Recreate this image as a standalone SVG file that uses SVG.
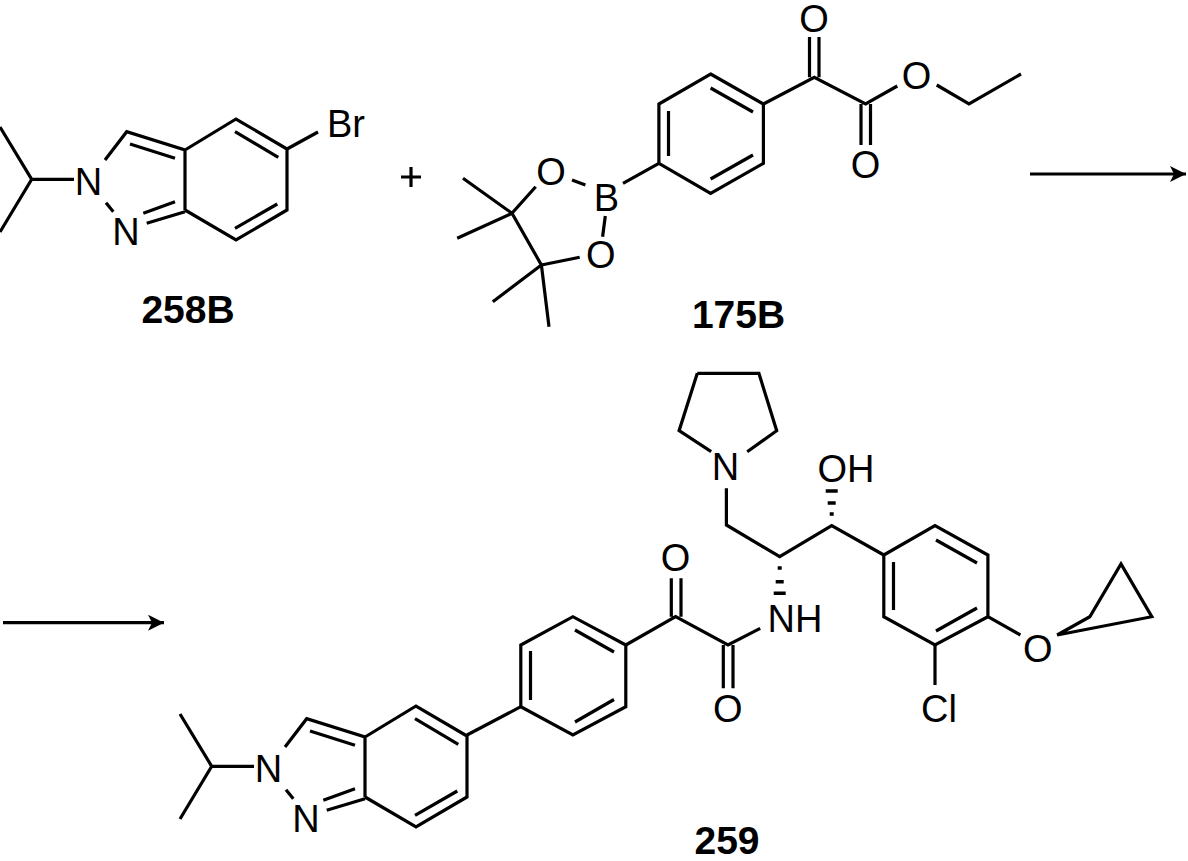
<svg xmlns="http://www.w3.org/2000/svg" width="1188" height="861" viewBox="0 0 1188 861">
<defs>
<style>
.b{stroke:#000;stroke-width:3.2;fill:none;stroke-linecap:butt;stroke-linejoin:miter}
.t{font-family:"Liberation Sans",Arial,sans-serif;font-size:38px;fill:#000;text-anchor:middle}
.lb{font-family:"Liberation Sans",Arial,sans-serif;font-size:39px;font-weight:bold;fill:#000;text-anchor:middle}
</style>
<marker id="ah" viewBox="0 0 10 10" refX="10" refY="5" markerWidth="8" markerHeight="5" markerUnits="strokeWidth" orient="auto"><path d="M0,0 L10,5 L0,10 L2.5,5 z" fill="#000"/></marker>
<g id="indazole">
<path class="b" d="M0,127 L31.7,179.3 L0,232 M31.7,179.3 L74,179.3 M105,160 L126.7,131.7 L185,150 L185,210 M106,202.7 L113.3,211.7 M146.7,223.3 L185,211.7 M143.3,213.3 L175,201.7 M130,144 L175,158.3 M185,150 L236,119 L287,149 L287,210 L236,240 L185,210 M235,131.7 L278.3,157.3 M235,228.3 L277.3,204"/>
<text class="t" x="88.5" y="195">N</text>
<text class="t" x="126" y="245">N</text>
</g>
</defs>
<g id="connectors">
<line class="b" x1="1030" y1="174" x2="1186" y2="174" marker-end="url(#ah)"/>
<line class="b" x1="3" y1="622.7" x2="164" y2="622.7" marker-end="url(#ah)"/>
</g>
<g id="plus"><path class="b" d="M401,177 L421,177 M411,167 L411,187"/></g>
<g id="c258B">
<use href="#indazole"/>
<path class="b" d="M287,149 L318,132"/>
<text class="t" x="327" y="136.7" style="text-anchor:start">Br</text>
<text class="lb" x="188" y="323">258B</text>
</g>
<g id="c175B">
<path class="b" d="M710.6,74 L763.4,104 L763.4,163.3 L710.6,193.3 L658.9,163.3 L658.9,104 Z M710.6,88 L753,112 M668.5,111 L668.5,156 M710.6,179 L753,155"/>
<path class="b" d="M623,183.3 L658.9,163.3 M572,180 L585.4,185 M605.3,216 L602.6,236.7 M535.7,186.7 L512,213.3 L541.4,265 L579.7,257.3 M512,213.3 L463,178.3 M512,213.3 L457.2,238.3 M541.4,265 L492.8,301.7 M541.4,265 L549,326.7"/>
<path class="b" d="M763.4,104 L814.3,77.3 L865.6,104 L897.3,86 M936.7,85 L969,104 L1021,74 M809.5,77.3 L809.5,37 M819,77.3 L819,37 M861,104 L861,145 M870.5,104 L870.5,145"/>
<text class="t" x="551" y="185">O</text>
<text class="t" x="606.5" y="211">B</text>
<text class="t" x="600.7" y="268">O</text>
<text class="t" x="814" y="32">O</text>
<text class="t" x="865.6" y="178">O</text>
<text class="t" x="916.5" y="89">O</text>
<text class="lb" x="738.5" y="328">175B</text>
</g>
<g id="c259">
<use href="#indazole" transform="translate(180,587)"/>
<path class="b" d="M467,735 L520.8,706.7"/>
<path class="b" d="M625.8,645 L572.9,616.7 L520.8,645 L520.8,706.7 L572.9,735 L625.8,706.7 Z M575,630 L614,652 M530.5,651 L530.5,700 M575,722 L614,699.5"/>
<path class="b" d="M625.8,645 L675.6,616.7 L728,645 L760.2,628.3 M671.3,616.7 L671.3,578.3 M681,616.7 L681,578.3 M723.3,645 L723.3,688.3 M733,645 L733,688.3"/>
<path class="b" d="M697.3,373.3 L758.9,373.3 L776.7,430.7 L747.2,451.7 M697.3,373.3 L679.1,430.7 L711.2,451.7 M726.4,488.3 L726.4,525 L779.7,556.7 L831.7,525.7 L883.8,555"/>
<path class="b" d="M883.8,555 L935,525.7 L987.9,555 L987.9,616.7 L935,645 L883.8,616.7 Z M936,540 L977,563 M893.5,562 L893.5,610 M936,631 L977,608"/>
<path class="b" d="M935,645 L935,685 M987.9,616.7 L1020.4,635 M1057.2,635 L1089.8,616.7 L1121,564 L1151.8,616.7 Z"/>
<path class="b" d="M825.7,491 L837.7,491 M827.7,503 L835.7,503 M829.7,514 L833.7,514 M777.7,568 L781.7,568 M775.7,581.7 L783.7,581.7 M773.7,593.3 L785.7,593.3" style="stroke-width:3.5"/>
<text class="t" x="725.5" y="480">N</text>
<text class="t" x="846" y="481.7">OH</text>
<text class="t" x="795" y="631.7">NH</text>
<text class="t" x="675.6" y="570.7">O</text>
<text class="t" x="727.7" y="721.7">O</text>
<text class="t" x="939" y="721.7">Cl</text>
<text class="t" x="1037.7" y="661.7">O</text>
<text class="lb" x="727" y="854">259</text>
</g>
</svg>
